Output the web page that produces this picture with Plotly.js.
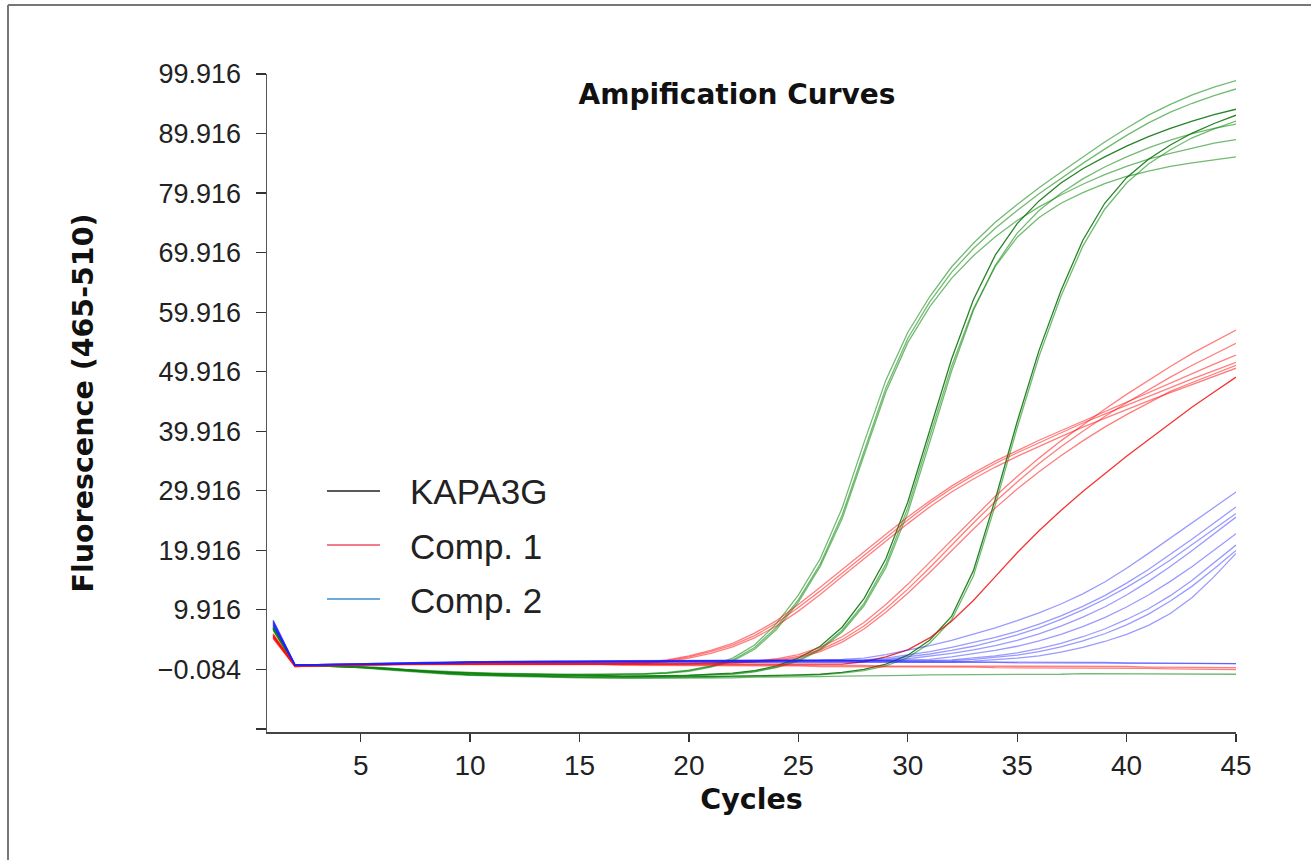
<!DOCTYPE html>
<html>
<head>
<meta charset="utf-8">
<script src="https://cdn.plot.ly/plotly-3.0.1.min.js"></script>
<style>html,body{margin:0;padding:0;background:#fff;}#chart{width:1311px;height:860px;}</style>
</head>
<body>
<div id="chart"></div>
<script>
// ---- data ----
const cycles = [1,2,3,4,5,6,7,8,9,10,11,12,13,14,15,16,17,18,19,20,21,22,23,24,25,26,27,28,29,30,31,32,33,34,35,36,37,38,39,40,41,42,43,44,45];

const xTickVals = [5,10,15,20,25,30,35,40,45];
const yTickVals = [-10.084,-0.084,9.916,19.916,29.916,39.916,49.916,59.916,69.916,79.916,89.916,99.916];
const yTickText = ['','\u22120.084','9.916','19.916','29.916','39.916','49.916','59.916','69.916','79.916','89.916','99.916'];

const legendNames = ['KAPA3G','Comp. 1','Comp. 2'];

// green curves
const g1a = [7.2,0.6,0.6,0.5,0.4,0.2,-0.1,-0.3,-0.5,-0.6,-0.7,-0.8,-0.8,-0.9,-0.9,-0.9,-0.9,-0.8,-0.6,-0.2,0.5,1.8,4.0,7.6,12.4,18.5,27.0,38.0,48.5,56.5,62.5,67.5,71.5,75.0,78.0,80.8,83.4,86.0,88.5,90.8,93.0,94.8,96.4,97.7,98.8];
const g1b = [7.0,0.6,0.6,0.5,0.4,0.2,-0.1,-0.4,-0.5,-0.7,-0.8,-0.8,-0.9,-0.9,-1.0,-1.0,-0.9,-0.8,-0.7,-0.3,0.4,1.5,3.6,7.0,11.6,17.6,25.8,36.5,47.2,55.5,61.6,66.6,70.6,74.0,77.0,79.8,82.4,84.9,87.3,89.6,91.7,93.5,95.0,96.3,97.4];
const g1c = [6.9,0.5,0.6,0.5,0.3,0.1,-0.2,-0.4,-0.6,-0.7,-0.8,-0.9,-0.9,-1.0,-1.0,-1.0,-1.0,-0.9,-0.7,-0.4,0.3,1.3,3.3,6.6,11.2,17.2,25.2,35.8,46.5,54.8,60.8,65.6,69.4,72.6,75.3,77.6,79.6,81.4,83.0,84.4,85.6,86.6,87.5,88.3,88.9];
const g2a = [6.8,0.6,0.6,0.5,0.3,0.1,-0.2,-0.4,-0.6,-0.8,-0.9,-1.0,-1.0,-1.1,-1.1,-1.1,-1.2,-1.2,-1.1,-1.1,-0.9,-0.7,-0.3,0.5,1.8,3.8,7.0,11.8,18.5,28.0,40.0,52.0,62.0,69.5,74.8,78.6,81.6,84.0,86.0,87.8,89.4,90.8,92.0,93.1,94.0];
const g2b = [6.6,0.6,0.5,0.4,0.3,0.0,-0.3,-0.5,-0.7,-0.8,-1.0,-1.0,-1.1,-1.1,-1.2,-1.2,-1.2,-1.2,-1.2,-1.1,-1.0,-0.8,-0.4,0.3,1.5,3.4,6.5,11.0,17.6,27.0,39.0,50.8,60.5,67.6,72.5,75.8,78.2,80.0,81.5,82.7,83.6,84.4,85.0,85.5,86.0];
const g2c = [7.1,0.6,0.6,0.5,0.3,0.1,-0.2,-0.5,-0.7,-0.9,-1.0,-1.1,-1.1,-1.2,-1.2,-1.3,-1.3,-1.3,-1.2,-1.2,-1.1,-0.9,-0.5,0.2,1.3,3.2,6.2,10.6,17.0,26.2,38.0,50.0,60.2,67.8,73.2,77.0,79.9,82.3,84.3,86.0,87.5,88.8,89.9,90.8,91.5];
const g3a = [6.7,0.5,0.5,0.4,0.2,0.0,-0.3,-0.6,-0.8,-1.0,-1.1,-1.2,-1.3,-1.3,-1.4,-1.4,-1.4,-1.4,-1.4,-1.3,-1.3,-1.2,-1.2,-1.1,-1.0,-0.9,-0.6,-0.1,0.8,2.3,4.8,8.8,16.5,28.5,41.5,53.5,63.5,72.0,78.2,82.5,85.6,88.0,90.0,91.6,93.0];
const g3b = [6.9,0.6,0.5,0.4,0.2,-0.1,-0.4,-0.7,-0.9,-1.1,-1.2,-1.3,-1.4,-1.4,-1.5,-1.5,-1.5,-1.5,-1.5,-1.4,-1.4,-1.3,-1.3,-1.2,-1.1,-1.0,-0.7,-0.3,0.5,1.9,4.3,8.2,15.6,27.5,40.5,52.5,62.6,71.0,77.2,81.6,84.8,87.2,89.2,90.7,92.0];
const gFlat = [6.5,0.6,0.5,0.4,0.2,0.0,-0.3,-0.6,-0.8,-1.0,-1.1,-1.2,-1.3,-1.4,-1.5,-1.5,-1.6,-1.6,-1.6,-1.6,-1.5,-1.5,-1.4,-1.4,-1.3,-1.3,-1.2,-1.2,-1.1,-1.1,-1.0,-1.0,-1.0,-0.9,-0.9,-0.9,-0.9,-0.8,-0.8,-0.8,-0.8,-0.8,-0.9,-0.9,-0.9];

// red curves
const r1a = [5.6,0.5,0.6,0.6,0.7,0.8,0.8,0.8,0.9,0.9,0.9,0.9,0.8,0.8,0.8,0.9,0.9,1.0,1.4,2.0,2.9,4.0,5.6,7.7,10.3,13.1,16.1,19.1,22.1,25.0,27.8,30.3,32.5,34.5,36.3,38.0,39.7,41.3,42.8,44.3,45.8,47.3,48.7,50.1,51.5];
const r1b = [5.3,0.4,0.5,0.6,0.7,0.7,0.8,0.8,0.8,0.9,0.9,0.8,0.8,0.8,0.8,0.8,0.8,0.9,1.2,1.8,2.6,3.7,5.2,7.2,9.7,12.5,15.5,18.5,21.5,24.4,27.2,29.7,31.9,33.9,35.7,37.4,39.0,40.6,42.1,43.6,45.0,46.4,47.8,49.2,50.5];
const r1c = [5.9,0.5,0.6,0.7,0.7,0.8,0.9,0.9,0.9,1.0,1.0,0.9,0.9,0.9,0.9,0.9,1.0,1.1,1.5,2.2,3.1,4.3,6.0,8.1,10.8,13.7,16.7,19.7,22.6,25.5,28.2,30.7,32.9,34.9,36.7,38.4,40.0,41.6,43.2,44.8,46.4,48.0,49.7,51.2,52.7];
const r2a = [5.4,0.5,0.6,0.6,0.7,0.7,0.8,0.8,0.9,0.9,0.9,0.9,0.9,0.8,0.8,0.8,0.8,0.9,0.9,0.9,1.0,1.1,1.3,1.7,2.4,3.6,5.4,7.8,10.8,14.2,17.9,21.7,25.4,29.0,32.3,35.4,38.3,41.0,43.6,46.1,48.5,50.8,53.0,55.0,56.9];
const r2b = [5.2,0.4,0.5,0.6,0.6,0.7,0.7,0.8,0.8,0.8,0.8,0.8,0.8,0.8,0.7,0.7,0.8,0.8,0.8,0.9,0.9,1.0,1.2,1.5,2.1,3.2,4.9,7.2,10.1,13.4,17.0,20.8,24.5,28.1,31.4,34.5,37.3,39.9,42.4,44.7,46.9,49.0,51.0,52.9,54.7];
const r2c = [5.7,0.5,0.6,0.6,0.7,0.8,0.8,0.8,0.8,0.9,0.9,0.9,0.8,0.8,0.8,0.8,0.8,0.8,0.9,0.9,0.9,1.0,1.1,1.3,1.9,2.9,4.5,6.7,9.5,12.7,16.2,19.9,23.5,27.0,30.2,33.1,35.8,38.3,40.6,42.7,44.7,46.6,48.1,49.6,51.0];
const r3 = [5.5,0.5,0.6,0.6,0.7,0.7,0.8,0.8,0.8,0.8,0.8,0.8,0.8,0.7,0.7,0.7,0.7,0.7,0.7,0.7,0.7,0.7,0.7,0.7,0.7,0.7,0.8,1.2,2.0,3.2,5.2,8.0,11.5,15.5,19.5,23.2,26.6,29.8,32.8,35.7,38.5,41.3,44.0,46.5,49.0];
const rFlat1 = [5.8,0.5,0.6,0.6,0.7,0.8,0.8,0.8,0.9,0.9,0.9,0.9,0.8,0.8,0.8,0.8,0.8,0.7,0.7,0.7,0.7,0.7,0.7,0.6,0.6,0.6,0.6,0.6,0.5,0.5,0.5,0.5,0.5,0.5,0.4,0.4,0.4,0.4,0.4,0.4,0.3,0.3,0.3,0.3,0.2];
const rFlat2 = [5.1,0.4,0.5,0.5,0.6,0.6,0.7,0.7,0.7,0.8,0.8,0.8,0.7,0.7,0.7,0.7,0.6,0.6,0.6,0.6,0.6,0.5,0.5,0.5,0.5,0.4,0.4,0.4,0.4,0.3,0.3,0.3,0.3,0.2,0.2,0.2,0.2,0.1,0.1,0.1,0.1,0.0,0.0,0.0,-0.1];

// blue curves
const b1 = [8.0,0.7,0.7,0.7,0.8,0.9,1.0,1.1,1.1,1.2,1.2,1.2,1.3,1.3,1.3,1.3,1.4,1.4,1.4,1.4,1.4,1.4,1.5,1.5,1.5,1.5,1.6,1.8,2.4,3.1,3.9,4.8,5.8,6.9,8.1,9.4,10.9,12.6,14.6,16.9,19.4,22.0,24.6,27.2,29.7];
const b2 = [7.8,0.7,0.7,0.7,0.8,0.8,0.9,1.0,1.1,1.1,1.2,1.2,1.2,1.2,1.3,1.3,1.3,1.3,1.3,1.3,1.4,1.4,1.4,1.4,1.4,1.4,1.4,1.5,1.8,2.3,2.9,3.6,4.4,5.3,6.3,7.5,8.9,10.5,12.3,14.4,16.7,19.2,21.8,24.5,27.2];
const b3 = [7.5,0.6,0.7,0.7,0.8,0.8,0.9,1.0,1.0,1.1,1.1,1.2,1.2,1.2,1.2,1.2,1.3,1.3,1.3,1.3,1.3,1.3,1.3,1.4,1.4,1.4,1.4,1.4,1.6,2.0,2.5,3.1,3.8,4.7,5.7,6.9,8.3,9.9,11.7,13.7,15.9,18.3,20.9,23.5,26.1];
const b4 = [7.9,0.7,0.7,0.8,0.8,0.9,1.0,1.0,1.1,1.1,1.2,1.2,1.2,1.3,1.3,1.3,1.3,1.3,1.3,1.4,1.4,1.4,1.4,1.4,1.4,1.4,1.4,1.4,1.5,1.7,2.1,2.6,3.2,3.9,4.8,5.9,7.2,8.7,10.4,12.4,14.7,17.2,19.9,22.7,25.5];
const b5 = [7.6,0.6,0.7,0.7,0.8,0.9,0.9,1.0,1.1,1.1,1.1,1.2,1.2,1.2,1.2,1.3,1.3,1.3,1.3,1.3,1.3,1.3,1.3,1.3,1.4,1.4,1.4,1.4,1.4,1.5,1.6,2.0,2.5,3.1,3.8,4.7,5.8,7.1,8.6,10.4,12.4,14.7,17.2,19.9,22.7];
const b6 = [8.2,0.7,0.7,0.8,0.8,0.9,1.0,1.1,1.1,1.2,1.2,1.2,1.3,1.3,1.3,1.3,1.3,1.3,1.4,1.4,1.4,1.4,1.4,1.4,1.4,1.4,1.4,1.4,1.4,1.4,1.4,1.5,1.8,2.2,2.7,3.4,4.3,5.4,6.7,8.3,10.1,12.3,14.9,17.8,20.8];
const b7 = [7.7,0.6,0.7,0.7,0.8,0.8,0.9,1.0,1.0,1.1,1.1,1.1,1.2,1.2,1.2,1.2,1.2,1.3,1.3,1.3,1.3,1.3,1.3,1.3,1.3,1.3,1.3,1.3,1.3,1.3,1.3,1.4,1.6,1.9,2.3,2.9,3.7,4.7,5.9,7.4,9.2,11.4,13.9,16.8,19.9];
const b8 = [7.4,0.6,0.6,0.7,0.7,0.8,0.9,0.9,1.0,1.0,1.1,1.1,1.1,1.1,1.2,1.2,1.2,1.2,1.2,1.2,1.2,1.2,1.2,1.2,1.2,1.2,1.2,1.2,1.2,1.2,1.2,1.2,1.3,1.5,1.8,2.2,2.8,3.6,4.6,5.8,7.3,9.3,12.0,15.5,19.4];
const bFlat1 = [8.1,0.7,0.7,0.8,0.8,0.9,1.0,1.1,1.1,1.2,1.2,1.3,1.3,1.3,1.3,1.4,1.4,1.4,1.4,1.4,1.4,1.4,1.4,1.4,1.3,1.3,1.3,1.3,1.3,1.2,1.2,1.2,1.2,1.2,1.1,1.1,1.1,1.1,1.1,1.0,1.0,1.0,1.0,0.9,0.9];
const bFlat2 = [7.3,0.6,0.7,0.7,0.8,0.8,0.9,1.0,1.0,1.1,1.1,1.1,1.1,1.2,1.2,1.2,1.2,1.2,1.2,1.2,1.2,1.2,1.2,1.2,1.2,1.2,1.2,1.1,1.1,1.1,1.1,1.1,1.1,1.1,1.0,1.0,1.0,1.0,1.0,1.0,1.0,0.9,0.9,0.9,0.9];

const greenSeries = [g1a,g1b,g1c,g2a,g2b,g2c,g3a,g3b,gFlat];
const redSeries = [r1a,r1b,r1c,r2a,r2b,r2c,r3,rFlat1,rFlat2];
const blueSeries = [b1,b2,b3,b4,b5,b6,b7,b8,bFlat1,bFlat2];

// ---- styles ----
const GREEN = 'rgba(20,140,20,0.6)';
const GREEN_DARK = 'rgba(0,110,0,0.85)';
const RED = 'rgba(255,20,20,0.55)';
const RED_DARK = 'rgba(240,0,0,0.8)';
const BLUE = 'rgba(30,30,255,0.45)';
const legendColors = ['#222222','#f0506a','#3c8fd2'];

const traces = [];
function addCurve(y, color) {
  traces.push({x: cycles, y: y, type: 'scatter', mode: 'lines', showlegend: false,
    hoverinfo: 'skip', line: {color: color, width: 1.3}});
}
greenSeries.forEach((s, i) => addCurve(s, (i === 3 || i === 6) ? GREEN_DARK : GREEN));
redSeries.forEach((s, i) => addCurve(s, (i === 6) ? RED_DARK : RED));
blueSeries.forEach((s) => addCurve(s, BLUE));

const pl = 267, pr = 1236, pt = 74, pb = 732;
const pw = pr - pl, ph = pb - pt;
const px = v => (v - pl) / pw;
const py = v => (pb - v) / ph;

// legend drawn as keys + labels (layout decoration)
const legendRowsPx = [491, 545, 599];
const shapes = [
  {type: 'line', xref: 'paper', yref: 'paper', x0: px(8), x1: px(8), y0: py(5), y1: py(862), line: {color: '#777', width: 2}},
  {type: 'line', xref: 'paper', yref: 'paper', x0: px(8), x1: px(1313), y0: py(5), y1: py(5), line: {color: '#777', width: 2}}
];
const annotations = [];
legendNames.forEach((n, i) => {
  shapes.push({type: 'line', xref: 'paper', yref: 'paper', x0: px(327), x1: px(380),
    y0: py(legendRowsPx[i]), y1: py(legendRowsPx[i]), line: {color: legendColors[i], width: 1.5}});
  annotations.push({text: n, xref: 'paper', yref: 'paper', x: px(408), y: py(legendRowsPx[i] + 1),
    xanchor: 'left', yanchor: 'middle', showarrow: false,
    font: {family: 'Liberation Sans, Arial, sans-serif', size: 35, color: '#222'}});
});

const layout = {
  width: 1311, height: 860, showlegend: false,
  margin: {l: pl, r: 1311 - pr, t: pt, b: 860 - pb, pad: 0},
  paper_bgcolor: '#ffffff', plot_bgcolor: '#ffffff',
  font: {family: 'Liberation Sans, Arial, sans-serif', color: '#222'},
  title: {text: 'Ampification Curves', font: {family: 'DejaVu Sans', size: 28, weight: 'bold', color: '#111'},
    xref: 'container', yref: 'container', x: 737/1311, xanchor: 'center', y: 1 - 94/860, yanchor: 'middle'},
  xaxis: {
    range: [0.72, 45], tickvals: xTickVals, ticks: 'outside', ticklen: 8, tickwidth: 1.2, tickcolor: '#333',
    showline: true, linecolor: '#444', linewidth: 1.5, showgrid: false, zeroline: false,
    tickfont: {family: 'Liberation Sans, Arial, sans-serif', size: 28, color: '#222'},
    title: {text: 'Cycles', font: {family: 'DejaVu Sans', size: 28.5, weight: 'bold', color: '#111'}, standoff: 9}
  },
  yaxis: {
    range: [-10.6, 99.916], tickvals: yTickVals, ticktext: yTickText, ticks: 'outside', ticklen: 10, tickwidth: 1.2,
    tickcolor: '#333', showline: true, linecolor: '#555', linewidth: 1.5, showgrid: false, zeroline: false,
    ticklabelstandoff: 9,
    tickfont: {family: 'Liberation Sans, Arial, sans-serif', size: 27, color: '#222'},
    title: {text: 'Fluorescence (465-510)', font: {family: 'DejaVu Sans', size: 28.5, weight: 'bold', color: '#111'}, standoff: 56}
  },
  shapes: shapes,
  annotations: annotations
};

Plotly.newPlot('chart', traces, layout, {staticPlot: true, displayModeBar: false});
</script>
</body>
</html>
